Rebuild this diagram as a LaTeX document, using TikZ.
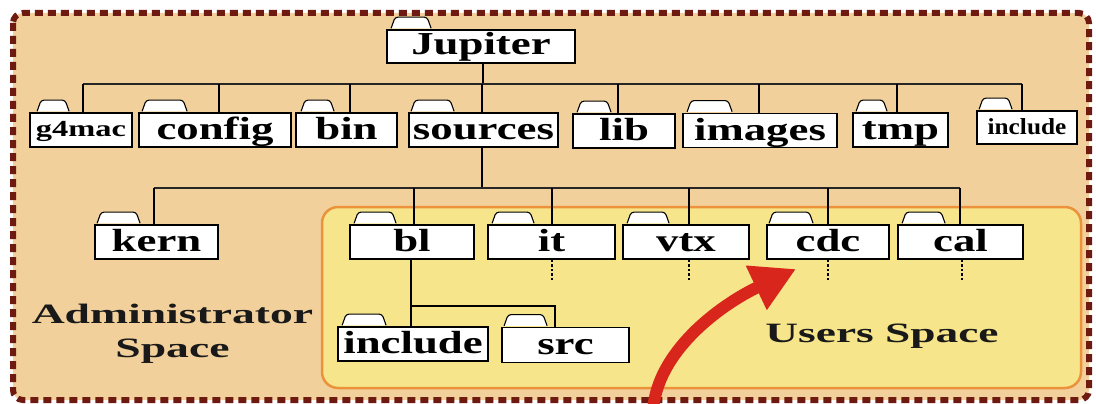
\documentclass[tikz,border=0pt]{standalone}
\usepackage{fontspec}
\setmainfont{Liberation Serif}
\usetikzlibrary{arrows.meta}

\definecolor{adminbg}{RGB}{242,208,156}
\definecolor{adminedge}{RGB}{110,26,16}
\definecolor{userbg}{RGB}{246,229,138}
\definecolor{useredge}{RGB}{236,146,58}
\definecolor{pointer}{RGB}{216,38,28}

% horizontally widened label text
\newcommand\wlabel[2]{\scalebox{#1}[1]{#2}}
% folder tab on top of a folder node: node name, left offset, tab width
\newcommand\foldertab[3]{%
  \draw[tabst] ([shift={(#2,-0.8)}]#1.north west) -- ++(4,-11.2) -- ++(#3-8,0) -- ++(4,11.2);}

\begin{document}
\begin{tikzpicture}[x=1pt,y=-1pt,
  folder/.style={draw=black, line width=1.8pt, fill=white, inner sep=0pt,
    text height=20pt, text depth=1pt, minimum height=34pt,
    font=\fontsize{32}{32}\selectfont\bfseries},
  smallfolder/.style={folder, text height=14pt,
    font=\fontsize{23}{23}\selectfont\bfseries},
  tabst/.style={draw=black, line width=1.1pt, fill=white, rounded corners=3pt},
  bus/.style={draw=black!85, line width=1.1pt},
  wire/.style={draw=black, line width=1.6pt},
  stub/.style={draw=black, line width=1.5pt, dash pattern=on 2.5pt off 2pt},
  spacelbl/.style={font=\fontsize{28}{34}\selectfont\bfseries, text=black!90, inner sep=0pt},
]
\useasboundingbox (0,0) rectangle (1096,404);
\clip (0,0) rectangle (1096,404);

% administrator area and users area
\draw[adminedge, fill=adminbg, line width=6pt, dash pattern=on 8pt off 5pt, rounded corners=10pt]
  (13,13) rectangle (1089,400);
\draw[useredge, fill=userbg, line width=2.5pt, rounded corners=16pt]
  (322,207) rectangle (1081,388);

% folders
\node[folder, minimum width=188pt, minimum height=33pt, text height=18pt] (jup) at (481,46.5) {\wlabel{1.4}{Jupiter}};

\node[smallfolder, minimum width=102pt] (g4mac) at (81,130) {\wlabel{1.41}{g4mac}};
\node[folder, minimum width=152pt] (config) at (215,130) {\wlabel{1.4}{config}};
\node[folder, minimum width=101pt] (bin) at (346.5,130) {\wlabel{1.4}{bin}};
\node[folder, minimum width=149pt] (sources) at (483.5,130) {\wlabel{1.4}{sources}};
\node[folder, minimum width=102pt] (lib) at (624,131) {\wlabel{1.4}{lib}};
\node[folder, minimum width=154pt] (images) at (760,130.5) {\wlabel{1.4}{images}};
\node[folder, minimum width=95pt] (tmp) at (900.5,130) {\wlabel{1.4}{tmp}};
\node[smallfolder, minimum width=100pt, minimum height=33pt] (inc1) at (1027,127.5) {\wlabel{1.1}{include}};

\node[folder, minimum width=123pt] (kern) at (156.5,242) {\wlabel{1.4}{kern}};
\node[folder, minimum width=124pt] (bl) at (412,242) {\wlabel{1.4}{bl}};
\node[folder, minimum width=127pt] (it) at (551.5,242) {\wlabel{1.4}{it}};
\node[folder, minimum width=126pt] (vtx) at (686,242) {\wlabel{1.4}{vtx}};
\node[folder, minimum width=122pt] (cdc) at (828,242) {\wlabel{1.4}{cdc}};
\node[folder, minimum width=125pt] (cal) at (960.5,242) {\wlabel{1.4}{cal}};

\node[folder, minimum width=150pt] (inc2) at (413,344) {\wlabel{1.4}{include}};
\node[folder, minimum width=127pt, minimum height=35pt] (src) at (565.5,345) {\wlabel{1.4}{src}};

% folder tabs
\foldertab{jup}{5}{40}
\foldertab{g4mac}{8}{32}
\foldertab{config}{4}{45}
\foldertab{bin}{6}{33}
\foldertab{sources}{3}{43}
\foldertab{lib}{5}{34}
\foldertab{images}{5}{45}
\foldertab{tmp}{4}{31}
\foldertab{inc1}{3}{33}
\foldertab{kern}{3}{43}
\foldertab{bl}{5}{42}
\foldertab{it}{5}{42}
\foldertab{vtx}{5}{42}
\foldertab{cdc}{3}{44}
\foldertab{cal}{5}{43}
\foldertab{inc2}{5}{44}
\foldertab{src}{3}{43}

% tree connectors
\coordinate (busA) at (0,84);
\coordinate (busB) at (0,188);
\coordinate (busC) at (0,306);

\draw[wire] ([xshift=2pt]jup.south) -- ([xshift=2pt]jup.south |- busA);
\draw[bus] ([xshift=2pt]g4mac.north |- busA) -- ([xshift=-5pt]inc1.north |- busA);
\foreach \n/\dx in {g4mac/2, config/4, bin/3.5, sources/-1.5, lib/-6, images/-1, tmp/-3.5, inc1/-5}
  \draw[wire] ([xshift=\dx pt]\n.north) -- ([xshift=\dx pt]\n.north |- busA);

\draw[wire] ([xshift=-1.5pt]sources.south) -- ([xshift=-1.5pt]sources.south |- busB);
\draw[bus] ([xshift=-2.5pt]kern.north |- busB) -- ([xshift=-0.5pt]cal.north |- busB);
\foreach \n/\dx in {kern/-2.5, bl/2, it/0.5, vtx/3, cdc/0, cal/-0.5}
  \draw[wire] ([xshift=\dx pt]\n.north) -- ([xshift=\dx pt]\n.north |- busB);

\foreach \n/\dx in {it/0.5, vtx/3, cdc/0, cal/1.5}
  \draw[stub] ([xshift=\dx pt]\n.south) -- ++(0,21);

\draw[wire] ([xshift=-1pt]bl.south) -- ([xshift=-1pt]bl.south |- inc2.north);
\draw[wire] ([xshift=-1pt]bl.south |- busC) -| ([xshift=-10.5pt]src.north);

% area labels
\node[spacelbl, align=center] (adminlbl) at (172.5,333.5)
  {\wlabel{1.63}{Administrator}\\\wlabel{1.63}{Space}};
\node[spacelbl, anchor=base] (userlbl) at (882,342) {\wlabel{1.62}{Users Space}};

% pointer into the users area
\coordinate (armstart) at (653,412);
\coordinate (armtip) at (796,269);
\draw[pointer, line width=12pt, -{Triangle[length=44pt,width=46pt]}]
  (armstart) .. controls (656,352) and (720,305) .. (armtip);
\end{tikzpicture}
\end{document}
